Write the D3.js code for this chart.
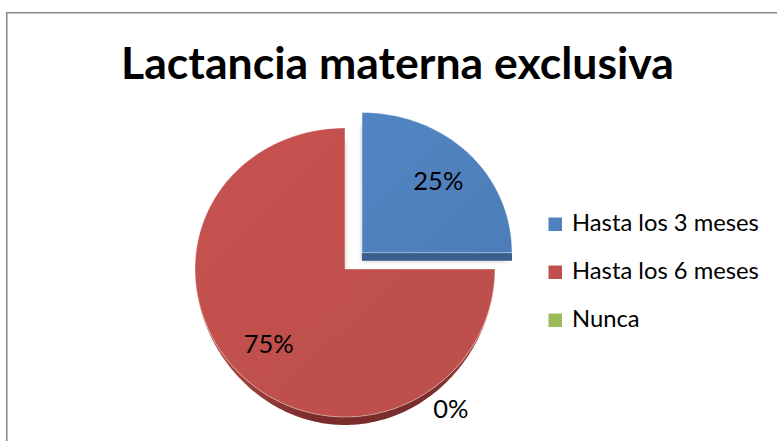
<!DOCTYPE html>
<html>
<head>
<meta charset="utf-8">
<script src="https://cdn.jsdelivr.net/npm/d3@7"></script>
<style>
  html, body { margin: 0; padding: 0; background: #fff; }
  svg { display: block; }
</style>
</head>
<body>
<svg id="chart" width="777" height="441"></svg>
<script>
// Chart data
const title = "Lactancia materna exclusiva";
const categories = ["Hasta los 3 meses", "Hasta los 6 meses", "Nunca"];
const values = [25, 75, 0];
const labels = ["25%", "75%", "0%"];
const colors = ["#4F81BD", "#C0504D", "#9BBB59"];
const sideColors = ["#3A5F8C", "#7A2D2B", "#6E8A3C"];
const exploded = [true, false, false];

const W = 777, H = 441;
const svg = d3.select("#chart");

// Frame
svg.append("rect")
  .attr("x", 6.75).attr("y", 12.75)
  .attr("width", 820).attr("height", 500)
  .attr("fill", "#fff").attr("stroke", "#8a8a8a").attr("stroke-width", 1.6);

// Title, sized to its measured width
const titleText = svg.append("text")
  .attr("x", 397.5).attr("y", 79)
  .attr("text-anchor", "middle")
  .attr("font-family", "Lato, 'Open Sans', sans-serif")
  .attr("font-weight", "bold")
  .attr("font-size", 40)
  .attr("fill", "#000")
  .text(title);
{
  const w = titleText.node().getComputedTextLength();
  titleText.attr("font-size", 40 * 553 / w);
}

// Pie geometry: a slightly tilted disc with a little perspective
const cx = 345, cy = 269, rx = 150, ry = 144.5, persp = 0.024, depth = 8;
const explodeDist = 0.16;
function project(u, v, dz) {
  return [cx + rx * u, cy - ry * v * (1 - persp * v) + (dz || 0)];
}

const pie = d3.pie().sort(null).value(d => d).startAngle(0).endAngle(2 * Math.PI);
const arcs = pie(values);

function offsetOf(i) {
  if (!exploded[i]) return [0, 0];
  const a = (arcs[i].startAngle + arcs[i].endAngle) / 2;
  return [explodeDist * Math.sin(a), explodeDist * Math.cos(a)];
}
function arcPoints(a0, a1, r, off, dz) {
  const n = Math.max(2, Math.ceil(Math.abs(a1 - a0) / 0.02));
  return d3.range(n + 1).map(k => {
    const a = a0 + (a1 - a0) * k / n;
    return project(off[0] + r * Math.sin(a), off[1] + r * Math.cos(a), dz);
  });
}
const line = d3.line();

const defs = svg.append("defs");
defs.append("filter").attr("id", "soft").attr("x", "-20%").attr("y", "-20%")
  .attr("width", "140%").attr("height", "140%")
  .append("feGaussianBlur").attr("stdDeviation", 2.2);

colors.forEach((c, i) => {
  const g = defs.append("linearGradient").attr("id", "grad" + i)
    .attr("x1", "0").attr("y1", "0").attr("x2", "1").attr("y2", "1");
  g.append("stop").attr("offset", "0").attr("stop-color", d3.color(c).brighter(0.08));
  g.append("stop").attr("offset", "1").attr("stop-color", d3.color(c).darker(0.08));
  // rim shading: dark at the front, fading into the face colour at the sides
  const s = defs.append("linearGradient").attr("id", "rim" + i)
    .attr("x1", "0").attr("y1", "0").attr("x2", "1").attr("y2", "0");
  s.append("stop").attr("offset", "0").attr("stop-color", d3.color(c).darker(0.05));
  s.append("stop").attr("offset", "0.38").attr("stop-color", sideColors[i]);
  s.append("stop").attr("offset", "0.8").attr("stop-color", sideColors[i]);
  s.append("stop").attr("offset", "1").attr("stop-color", d3.color(c).darker(0.05));
});

const gPie = svg.append("g");

// Soft shadow under the disc
arcs.forEach((d, i) => {
  if (d.endAngle - d.startAngle <= 0) return;
  const off = offsetOf(i);
  const pts = [project(off[0], off[1], depth)]
    .concat(arcPoints(d.startAngle, d.endAngle, 0.96, off, depth));
  gPie.append("path").attr("d", line(pts) + "Z")
    .attr("fill", "rgba(0,0,0,0.28)").attr("filter", "url(#soft)");
});

// Side walls: outer rim on the front half, plus radial walls facing the viewer
arcs.forEach((d, i) => {
  if (d.endAngle - d.startAngle <= 0) return;
  const off = offsetOf(i);
  const a0 = Math.max(d.startAngle, Math.PI / 2);
  const a1 = Math.min(d.endAngle, 3 * Math.PI / 2);
  if (a1 > a0) {
    // wall height shrinks toward the left and right extremes
    const n = Math.max(2, Math.ceil((a1 - a0) / 0.02));
    const angs = d3.range(n + 1).map(k => a0 + (a1 - a0) * k / n);
    const top = angs.map(a => project(off[0] + Math.sin(a), off[1] + Math.cos(a), 0));
    const bot = angs.map(a => project(off[0] + Math.sin(a), off[1] + Math.cos(a),
      depth * Math.pow(Math.max(0, -Math.cos(a)), 1.6))).reverse();
    gPie.append("path").attr("d", line(top.concat(bot)) + "Z")
      .attr("fill", "url(#rim" + i + ")");
  }
  // radial wall along an edge when it points downward on screen
  [d.startAngle, d.endAngle].forEach((a, j) => {
    const faceDown = (j === 1) ? Math.sin(a) > 0.5 : Math.sin(a) < -0.5;
    if (!faceDown) return;
    const c0 = project(off[0], off[1], 0);
    const p0 = project(off[0] + Math.sin(a), off[1] + Math.cos(a), 0);
    const c1 = project(off[0], off[1], depth);
    const p1 = project(off[0] + Math.sin(a), off[1] + Math.cos(a), depth);
    gPie.append("path").attr("d", line([c0, p0, p1, c1]) + "Z")
      .attr("fill", sideColors[i]);
  });
});

// Top faces
arcs.forEach((d, i) => {
  if (d.endAngle - d.startAngle <= 0) return;
  const off = offsetOf(i);
  const pts = [project(off[0], off[1], 0)].concat(arcPoints(d.startAngle, d.endAngle, 1, off, 0));
  gPie.append("path").attr("d", line(pts) + "Z")
    .attr("fill", "url(#grad" + i + ")")
    .attr("stroke", "rgba(255,255,255,0.5)").attr("stroke-width", 0.8);
});

// Data labels
const labelFont = "Lato, 'Open Sans', sans-serif";
const probe = svg.append("text").attr("font-family", labelFont).attr("font-size", 24).text("25%");
const labelSize = 24 * 50 / probe.node().getComputedTextLength();
probe.remove();

arcs.forEach((d, i) => {
  const off = offsetOf(i);
  let a, r;
  if (d.endAngle - d.startAngle > 0) {
    a = (d.startAngle + d.endAngle) / 2; r = 0.72;
  } else {
    // empty slice: label pushed outside the rim, lower right
    a = 2.5; r = 1.18;
  }
  const p = project(off[0] + r * Math.sin(a), off[1] + r * Math.cos(a), 0);
  svg.append("text")
    .attr("x", p[0]).attr("y", p[1])
    .attr("dy", "0.36em")
    .attr("text-anchor", "middle")
    .attr("font-family", labelFont)
    .attr("font-size", labelSize)
    .attr("fill", "#000")
    .text(labels[i]);
});

// Legend
const legend = svg.append("g");
const legendY = d3.scalePoint().domain(categories).range([231, 327]);
const lp = svg.append("text").attr("font-family", labelFont).attr("font-size", 20).text(categories[0]);
const legendSize = 20 * 187 / lp.node().getComputedTextLength();
lp.remove();
categories.forEach((c, i) => {
  const y = legendY(c);
  legend.append("rect")
    .attr("x", 548.5).attr("y", y - 13.5)
    .attr("width", 13.5).attr("height", 13.5)
    .attr("fill", colors[i]);
  legend.append("text")
    .attr("x", 572).attr("y", y)
    .attr("font-family", labelFont)
    .attr("font-size", legendSize)
    .attr("fill", "#000")
    .text(c);
});
</script>
</body>
</html>
